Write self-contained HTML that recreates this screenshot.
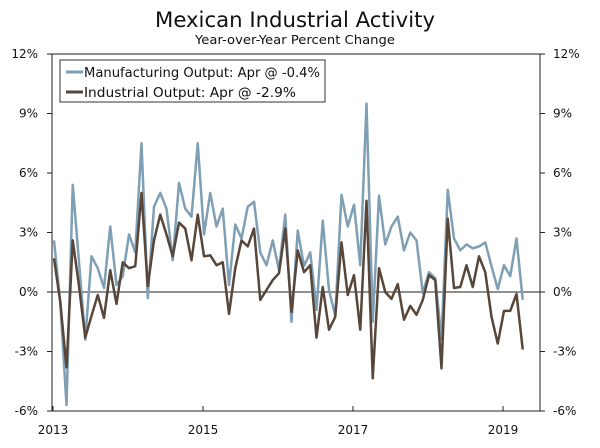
<!DOCTYPE html>
<html><head><meta charset="utf-8"><style>
body{margin:0;background:#fff;}
svg text{font-family:"DejaVu Sans","Liberation Sans",sans-serif;fill:#111;}
</style></head><body>
<svg width="600" height="443" xmlns="http://www.w3.org/2000/svg">
<text x="155" y="27" font-size="21" textLength="280" lengthAdjust="spacingAndGlyphs">Mexican Industrial Activity</text>
<text x="195" y="44" font-size="12.5" textLength="200" lengthAdjust="spacingAndGlyphs">Year-over-Year Percent Change</text>
<g id="axes"></g>
<g id="series"></g>
<g>
<rect x="60" y="60" width="265" height="42" fill="#fff" stroke="#333" stroke-width="1"/>
<line x1="66" y1="72" x2="83" y2="72" stroke="#7f9fb4" stroke-width="3"/>
<text x="84" y="77" font-size="13" textLength="236" lengthAdjust="spacingAndGlyphs">Manufacturing Output: Apr @ -0.4%</text>
<line x1="66" y1="92" x2="83" y2="92" stroke="#574639" stroke-width="3"/>
<text x="84" y="97" font-size="13" textLength="212" lengthAdjust="spacingAndGlyphs">Industrial Output: Apr @ -2.9%</text>
</g>
</svg>
<script>
const yTicks=[12,9,6,3,0,-3,-6];
const yTickLabels=["12%","9%","6%","3%","0%","-3%","-6%"];
const xTickYears=[2013,2015,2017,2019];
const manufacturing=[2.6,-0.5,-5.7,5.4,1.5,-2.4,1.8,1.2,0.2,3.3,0.35,0.8,2.9,2.0,7.5,-0.3,4.3,5.0,4.2,1.6,5.5,4.2,3.8,7.5,2.9,5.0,3.3,4.2,0.35,3.4,2.7,4.3,4.55,2.0,1.35,2.6,1.1,3.9,-1.5,3.1,1.3,2.0,-0.9,3.6,0.1,-1.2,4.9,3.3,4.4,1.35,9.5,-1.5,4.85,2.4,3.3,3.8,2.1,3.0,2.6,-0.05,1.0,0.7,-2.4,5.15,2.7,2.1,2.4,2.2,2.3,2.5,1.3,0.15,1.35,0.8,2.7,-0.4];
const industrial=[1.7,-0.5,-3.8,2.6,0.3,-2.3,-1.2,-0.15,-1.3,1.1,-0.6,1.5,1.2,1.3,5.0,0.3,2.6,3.9,2.9,1.8,3.5,3.2,1.6,3.9,1.8,1.85,1.35,1.5,-1.1,1.2,2.6,2.3,3.2,-0.4,0.1,0.6,0.95,3.2,-1.0,2.1,1.0,1.35,-2.3,0.25,-1.9,-1.25,2.5,-0.15,0.85,-1.9,4.6,-4.35,1.2,0,-0.35,0.4,-1.4,-0.7,-1.15,-0.4,0.85,0.6,-3.85,3.7,0.2,0.25,1.35,0.25,1.8,1.0,-1.25,-2.6,-0.95,-0.95,-0.1,-2.9];
const NS="http://www.w3.org/2000/svg";
const L=52,R=540,T=54,B=411;
const yS=v=>T+(12-v)/18*(B-T);
const xS=i=>54+i*6.25;
const xYear=y=>54+(y-2013)*75;
const axes=document.getElementById('axes');
function mk(tag,attrs,parent){const e=document.createElementNS(NS,tag);for(const k in attrs)e.setAttribute(k,attrs[k]);parent.appendChild(e);return e;}
let e;
e=mk('rect',{x:L,y:T,width:R-L,height:B-T,fill:'none',stroke:'#222','stroke-width':1},axes);


e=mk('line',{x1:L,y1:yS(0),x2:R,y2:yS(0),stroke:'#222','stroke-width':1},axes);


yTicks.forEach((v,k)=>{
 const y=yS(v);
 mk('line',{x1:L-5,y1:y,x2:L,y2:y,stroke:'#222'},axes);
 mk('line',{x1:R,y1:y,x2:R+5,y2:y,stroke:'#222'},axes);
 let t=mk('text',{x:38,y:y+4,'text-anchor':'end','font-size':12},axes);t.textContent=yTickLabels[k];
 
 
 t=mk('text',{x:553,y:y+4,'text-anchor':'start','font-size':12},axes);t.textContent=yTickLabels[k];
 
 
});
xTickYears.forEach(yr=>{
 const x=xYear(yr)-1;
 mk('line',{x1:x,y1:B-5,x2:x,y2:B,stroke:'#222'},axes);
 const t=mk('text',{x:x,y:B+23,'text-anchor':'middle','font-size':12},axes);t.textContent=yr;
 
 
});
const sg=document.getElementById('series');
function line(d,color,name){
 const p=mk('polyline',{points:d.map((v,i)=>xS(i)+','+yS(v)).join(' '),fill:'none',stroke:color,'stroke-width':2.5,'stroke-linejoin':'round'},sg);
 
 
}
line(manufacturing,'#7f9fb4','manufacturing-line');
line(industrial,'#574639','industrial-line');
</script>
</body></html>
